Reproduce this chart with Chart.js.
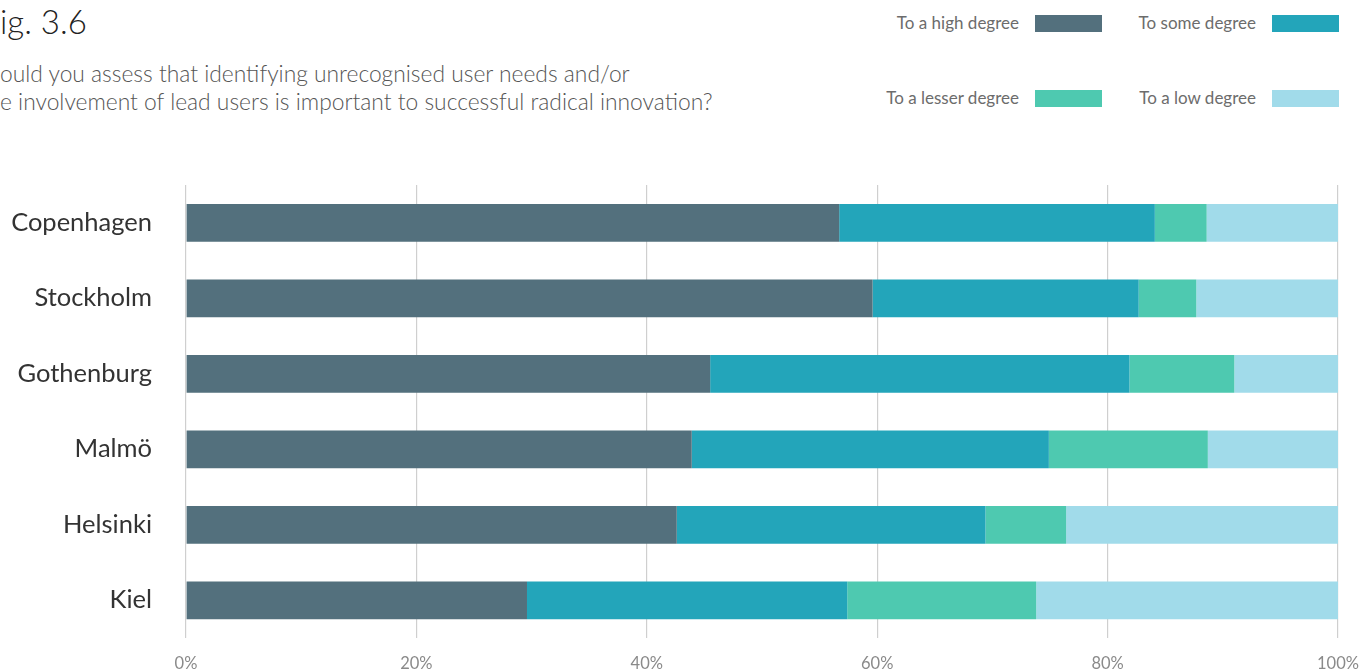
<!DOCTYPE html>
<html>
<head>
<meta charset="utf-8">
<script src="https://cdn.jsdelivr.net/npm/chart.js@4.4.1/dist/chart.umd.min.js"></script>
<style>
  html, body {
    margin: 0;
    padding: 0;
    background: #ffffff;
    overflow: hidden;
  }
  #wrap {
    position: relative;
    width: 1370px;
    height: 672px;
    font-family: Lato, "Open Sans", sans-serif;
  }
  #titulo {
    position: absolute;
    left: 0;
    top: 1px;
    font-size: 33px;
    font-weight: 300;
    color: #222;
    line-height: 40px;
    white-space: nowrap;
  }
  #pergunta {
    position: absolute;
    left: 0;
    top: 59px;
    font-size: 22.8px;
    font-weight: 300;
    color: #555;
    line-height: 28px;
    white-space: nowrap;
  }
  #legenda .item {
    position: absolute;
    height: 17px;
  }
  #legenda .texto {
    position: absolute;
    right: 83px;
    top: -3px;
    font-size: 17px;
    color: #6c6c6c;
    white-space: nowrap;
    line-height: 22px;
  }
  #legenda .cor {
    position: absolute;
    right: 0;
    top: 0;
    width: 67px;
    height: 17px;
  }
  #canvasBox {
    position: absolute;
    left: 0;
    top: 0;
    width: 1370px;
    height: 672px;
  }
</style>
</head>
<body>
<div id="wrap">
  <div id="titulo">ig. 3.6</div>
  <div id="pergunta">ould you assess that identifying unrecognised user needs and/or<br>e involvement of lead users is important to successful radical innovation?</div>
  <div id="legenda"></div>
  <div id="canvasBox"><canvas id="graficoBarras"></canvas></div>
</div>
<script>
// cidades (eixo y)
const cidades = ["Copenhagen", "Stockholm", "Gothenburg", "Malmö", "Helsinki", "Kiel"];

// percentagens por resposta
const altoGrau = [56.7, 59.6, 45.5, 43.9, 42.6, 29.6];
const algumGrau = [27.4, 23.1, 36.4, 31.0, 26.8, 27.8];
const menorGrau = [4.5, 5.0, 9.1, 13.8, 7.0, 16.4];
const baixoGrau = [11.4, 12.3, 9.0, 11.3, 23.6, 26.2];

const nomesSeries = ["To a high degree", "To some degree", "To a lesser degree", "To a low degree"];
const coresSeries = ["#53707d", "#23a5ba", "#4ec9b0", "#a1dbea"];

// marcas do eixo x
const ticksX = [0, 20, 40, 60, 80, 100];

// posicao da legenda (2 x 2), canto direito de cada caixa
const legendaPos = [
  { right: 1102, top: 15 },
  { right: 1339, top: 15 },
  { right: 1102, top: 90 },
  { right: 1339, top: 90 },
];

const montaLegenda = (datasets) => {
  const div = document.getElementById("legenda");
  datasets.forEach((ds, i) => {
    const item = document.createElement("div");
    item.className = "item";
    item.style.left = legendaPos[i].right - 400 + "px";
    item.style.width = "400px";
    item.style.top = legendaPos[i].top + "px";
    item.innerHTML =
      '<span class="texto">' + ds.label + '</span><span class="cor" style="background:' +
      ds.backgroundColor + '"></span>';
    div.appendChild(item);
  });
};

// sem folgas extra dos rotulos, para a area do grafico ficar fixa
const semFolga = (scale) => {
  scale.paddingLeft = 0;
  scale.paddingRight = 0;
  scale.paddingTop = 0;
  scale.paddingBottom = 0;
};

const onGrafico = () => {
  const series = [altoGrau, algumGrau, menorGrau, baixoGrau];
  const datasets = series.map((valores, i) => ({
    label: nomesSeries[i],
    backgroundColor: coresSeries[i],
    data: valores,
    borderWidth: 0,
    barPercentage: 0.5,
    categoryPercentage: 1.0,
  }));

  montaLegenda(datasets);

  const ctx = document.getElementById("graficoBarras").getContext("2d");
  new Chart(ctx, {
    type: "bar",
    data: {
      labels: cidades,
      datasets: datasets,
    },
    options: {
      indexAxis: "y",
      responsive: true,
      maintainAspectRatio: false,
      animation: false,
      layout: {
        padding: { top: 185, right: 32, left: 0, bottom: 0 },
      },
      plugins: {
        legend: { display: false },
        tooltip: { enabled: false },
      },
      scales: {
        x: {
          stacked: true,
          min: 0,
          max: 100,
          afterBuildTicks: (scale) => {
            scale.ticks = ticksX.map((v) => ({ value: v }));
          },
          afterFit: (scale) => {
            scale.height = 34;
            semFolga(scale);
          },
          grid: {
            color: "#cfcfcf",
            lineWidth: 1.2,
            drawTicks: false,
          },
          border: { display: false },
          ticks: {
            padding: 16,
            color: "#8a8a8a",
            font: { family: "Lato", size: 16.5 },
            callback: (v) => v + "%",
          },
        },
        y: {
          stacked: true,
          afterFit: (scale) => {
            scale.width = 186;
            semFolga(scale);
          },
          grid: { display: false, drawTicks: false },
          border: { display: false },
          ticks: {
            padding: 34,
            color: "#333333",
            font: { family: "Lato", size: 25.5 },
          },
        },
      },
    },
  });
};

window.addEventListener("load", onGrafico);
</script>
</body>
</html>
